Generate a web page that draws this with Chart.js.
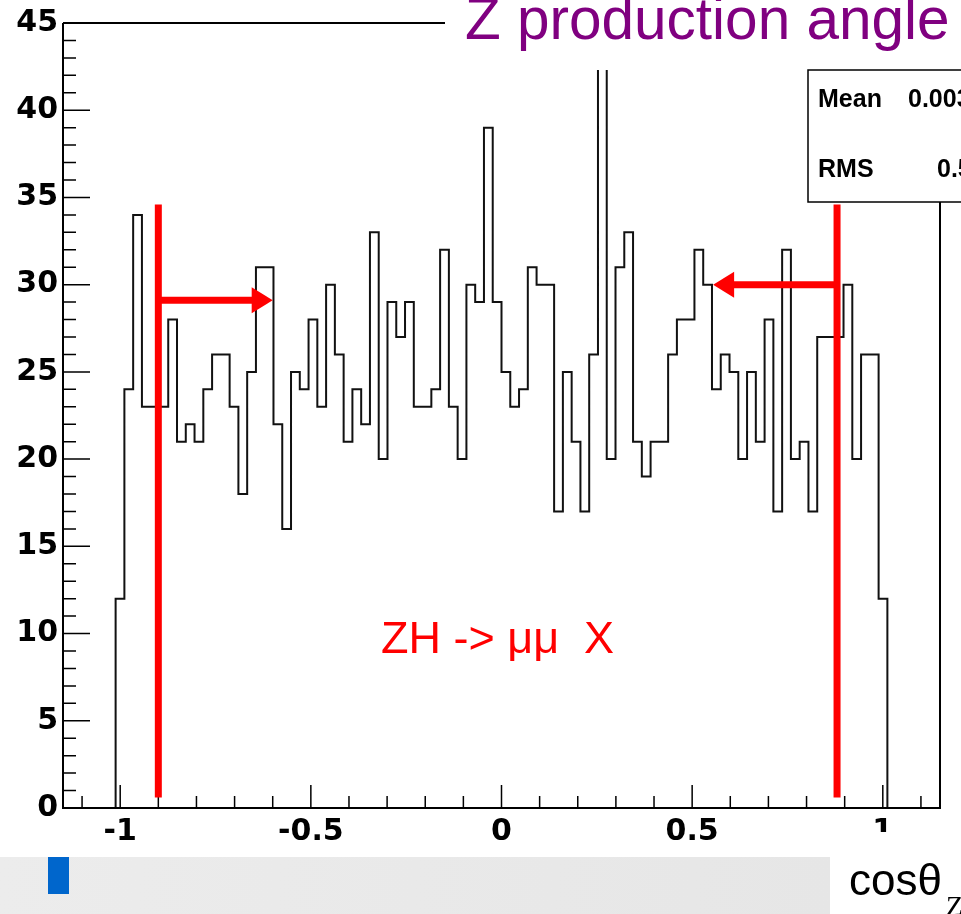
<!DOCTYPE html>
<html>
<head>
<meta charset="utf-8">
<script src="https://cdn.jsdelivr.net/npm/chart.js@4.4.0/dist/chart.umd.min.js"></script>
<style>
  html, body { margin: 0; padding: 0; background: #fff; }
  canvas { display: block; }
</style>
</head>
<body>
<canvas id="hist" width="961" height="914"></canvas>
<script>
// histogram: 100 bins from -1.15 to 1.15
const binLow = -1.15;
const binWidth = 0.023;
const counts = [
  0, 0, 0, 0, 0, 0,
  12, 24, 34, 23, 23, 23, 28, 21, 22, 21,
  24, 26, 26, 23, 18, 25, 31, 31, 22, 16,
  25, 24, 28, 23, 30, 26, 21, 24, 22, 33,
  20, 29, 27, 29, 23, 23, 24, 32, 23, 20,
  30, 29, 39, 29, 25, 23, 24, 31, 30, 30,
  17, 25, 21, 17, 26, 47, 20, 31, 33, 21,
  19, 21, 21, 26, 28, 28, 32, 30, 24, 26,
  25, 20, 25, 21, 28, 17, 32, 20, 21, 17,
  27, 27, 27, 30, 20, 26, 26, 12,
  0, 0, 0, 0, 0, 0
];
const xTickLabels = [-1, -0.5, 0, 0.5, 1];
const yTickLabels = [0, 5, 10, 15, 20, 25, 30, 35, 40, 45];

// cut lines and arrows (data coords)
const cutX = [-0.9, 0.88];
const cutYRange = [0.6, 34.6];
const arrowY = [29.1, 30];
const arrowTipX = [-0.6, 0.555];

const statNames = ['Mean', 'RMS'];
const statValues = ['0.003214', '0.5571'];

const points = counts.map((c, i) => ({x: binLow + i * binWidth, y: c}));
points.push({x: binLow + counts.length * binWidth, y: 0});

const decor = {
  id: 'decor',
  afterDraw(chart) {
    const ctx = chart.ctx;
    const a = chart.chartArea;
    const xs = chart.scales.x, ys = chart.scales.y;
    ctx.save();
    ctx.strokeStyle = '#000';
    ctx.lineWidth = 2;
    // frame
    ctx.beginPath();
    ctx.moveTo(a.left, a.top); ctx.lineTo(a.left, a.bottom);
    ctx.lineTo(a.right, a.bottom); ctx.lineTo(a.right, a.top);
    ctx.lineTo(a.left, a.top);
    ctx.stroke();
    // ticks
    ctx.lineWidth = 1.5;
    ctx.beginPath();
    for (let v = 0; v <= 45; v++) {
      const y = ys.getPixelForValue(v);
      ctx.moveTo(a.left, y); ctx.lineTo(a.left + (v % 5 === 0 ? 27 : 13), y);
    }
    for (let k = -11; k <= 11; k++) {
      const x = xs.getPixelForValue(k / 10);
      ctx.moveTo(x, a.bottom); ctx.lineTo(x, a.bottom - (k % 5 === 0 ? 23 : 12));
    }
    ctx.stroke();

    // red cut lines and arrows
    ctx.strokeStyle = '#ff0000';
    ctx.fillStyle = '#ff0000';
    ctx.lineWidth = 7;
    for (let i = 0; i < cutX.length; i++) {
      const x = xs.getPixelForValue(cutX[i]);
      ctx.beginPath();
      ctx.moveTo(x, ys.getPixelForValue(cutYRange[0]));
      ctx.lineTo(x, ys.getPixelForValue(cutYRange[1]));
      ctx.stroke();
      const y = ys.getPixelForValue(arrowY[i]);
      const tip = xs.getPixelForValue(arrowTipX[i]);
      const dir = tip > x ? 1 : -1;
      ctx.beginPath();
      ctx.moveTo(x, y); ctx.lineTo(tip - dir * 18, y);
      ctx.stroke();
      ctx.beginPath();
      ctx.moveTo(tip, y);
      ctx.lineTo(tip - dir * 21, y - 13);
      ctx.lineTo(tip - dir * 21, y + 13);
      ctx.closePath();
      ctx.fill();
    }
    ctx.font = '45px "Liberation Sans", Arial, sans-serif';
    ctx.textBaseline = 'alphabetic';
    ctx.textAlign = 'left';
    ctx.fillText('ZH -> \u03bc\u03bc  X', xs.getPixelForValue(-0.316), ys.getPixelForValue(8.9));

    // title box
    ctx.fillStyle = '#fff';
    ctx.fillRect(445, 0, 516, 70);
    ctx.fillStyle = '#800080';
    ctx.font = '58.5px "Liberation Sans", Arial, sans-serif';
    ctx.fillText('Z production angle', 465, 39);

    // stats box
    ctx.fillStyle = '#fff';
    ctx.fillRect(808, 70, 160, 132);
    ctx.strokeStyle = '#000';
    ctx.lineWidth = 1.5;
    ctx.strokeRect(808, 70, 160, 132);
    ctx.fillStyle = '#000';
    ctx.font = 'bold 25px "Liberation Sans", Arial, sans-serif';
    ctx.fillText(statNames[0], 818, 107);
    ctx.fillText(statValues[0], 908, 107);
    ctx.fillText(statNames[1], 818, 177);
    ctx.fillText(statValues[1], 937, 177);

    // slide decoration under the plot
    ctx.fillStyle = '#fff';
    ctx.fillRect(862, 832, 99, 26);
    const g = ctx.createLinearGradient(0, 857, 830, 914);
    g.addColorStop(0, '#ececec');
    g.addColorStop(1, '#e6e6e6');
    ctx.fillStyle = g;
    ctx.fillRect(0, 857, 830, 57);
    ctx.fillStyle = '#0066cc';
    ctx.fillRect(48, 857, 21, 37);
    ctx.fillStyle = '#000';
    ctx.font = '44px "Liberation Sans", Arial, sans-serif';
    ctx.fillText('cos\u03b8', 849, 895);
    ctx.font = '28px "Liberation Serif", serif';
    ctx.fillText('Z', 946, 915);
    ctx.restore();
  }
};

new Chart(document.getElementById('hist').getContext('2d'), {
  type: 'line',
  data: {
    datasets: [{
      data: points,
      stepped: true,
      borderColor: '#111',
      borderWidth: 2,
      pointRadius: 0,
      fill: false,
      tension: 0
    }]
  },
  options: {
    responsive: false,
    animation: false,
    events: [],
    layout: { padding: { left: 0, top: 19, right: 21, bottom: 0 } },
    plugins: { legend: { display: false }, tooltip: { enabled: false } },
    scales: {
      x: {
        type: 'linear',
        min: -1.15,
        max: 1.15,
        grid: { display: false, drawTicks: false },
        border: { display: false },
        afterBuildTicks: s => { s.ticks = xTickLabels.map(v => ({value: v})); },
        afterFit: s => { s.height = 106; },
        ticks: {
          padding: 6,
          maxRotation: 0,
          autoSkip: false,
          color: '#000',
          font: { family: '"DejaVu Sans"', size: 30, weight: 'bold' },
          callback: v => String(v)
        }
      },
      y: {
        min: 0,
        max: 45,
        grid: { display: false, drawTicks: false },
        border: { display: false },
        afterBuildTicks: s => { s.ticks = yTickLabels.map(v => ({value: v})); },
        afterFit: s => { s.width = 63; },
        ticks: {
          padding: 5,
          color: '#000',
          font: { family: '"DejaVu Sans"', size: 30, weight: 'bold' }
        }
      }
    }
  },
  plugins: [decor]
});
</script>
</body>
</html>
